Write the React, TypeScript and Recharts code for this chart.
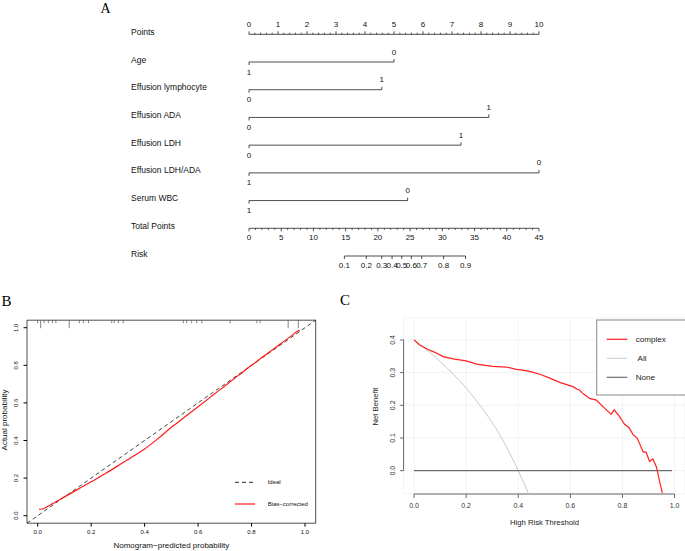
import React from 'react';
import {
  ComposedChart,
  Line,
  Scatter,
  XAxis,
  YAxis,
  ReferenceLine,
  ReferenceArea,
  CartesianGrid,
} from 'recharts';

const SANS = '"Liberation Sans", Arial, Helvetica, sans-serif';
const SERIF = '"Liberation Serif", "Times New Roman", serif';

// ---------- A: nomogram ----------
const rowNames = [
  'Points',
  'Age',
  'Effusion lymphocyte',
  'Effusion ADA',
  'Effusion LDH',
  'Effusion LDH/ADA',
  'Serum WBC',
  'Total Points',
  'Risk',
];
const pointTicks = [0, 1, 2, 3, 4, 5, 6, 7, 8, 9, 10];
const varLevels = [
  ['1', '0'],
  ['0', '1'],
  ['0', '1'],
  ['0', '1'],
  ['1', '0'],
  ['1', '0'],
];
const varPoints = [
  [0, 5.0],
  [0, 4.58],
  [0, 8.27],
  [0, 7.31],
  [0, 10],
  [0, 5.47],
];
const totalTicks = [0, 5, 10, 15, 20, 25, 30, 35, 40, 45];
const riskLabels = ['0.1', '0.2', '0.3', '0.4', '0.5', '0.6', '0.7', '0.8', '0.9'];
const riskAt = [14.8, 18.2, 20.6, 22.2, 23.7, 25.2, 26.8, 30.2, 33.6];

// ---------- B: calibration ----------
const calX = [0.005, 0.02, 0.05, 0.1, 0.15, 0.2, 0.25, 0.3, 0.35, 0.4, 0.45, 0.5, 0.55, 0.6, 0.65, 0.7, 0.75, 0.8, 0.85, 0.9, 0.95, 0.97, 0.98];
const calY = [0.034, 0.037, 0.06, 0.1, 0.14, 0.18, 0.222, 0.265, 0.31, 0.355, 0.41, 0.47, 0.525, 0.58, 0.635, 0.69, 0.745, 0.8, 0.853, 0.905, 0.958, 0.98, 0.986];
const rugShort = [0.0, 0.024, 0.04, 0.055, 0.068, 0.156, 0.171, 0.19, 0.277, 0.286, 0.302, 0.32, 0.545, 0.557, 0.576, 0.595, 0.614, 0.72, 0.82, 0.832];
const rugLong = [0.011, 0.118, 0.937, 0.975];
const probTicks = [0, 0.2, 0.4, 0.6, 0.8, 1.0];

// ---------- C: decision curve ----------
const thr = [0, 0.02, 0.05, 0.08, 0.112, 0.15, 0.2, 0.24, 0.3, 0.355, 0.393, 0.425, 0.45, 0.483, 0.521, 0.559, 0.61, 0.625, 0.636, 0.645, 0.655, 0.674, 0.7, 0.725, 0.757, 0.768, 0.789, 0.808, 0.825, 0.84, 0.857, 0.879, 0.891, 0.904, 0.917, 0.93, 0.943, 0.953];
const netComplex = [0.4, 0.385, 0.372, 0.362, 0.349, 0.342, 0.336, 0.326, 0.319, 0.317, 0.31, 0.307, 0.302, 0.295, 0.283, 0.27, 0.257, 0.25, 0.246, 0.238, 0.232, 0.221, 0.216, 0.196, 0.172, 0.186, 0.165, 0.142, 0.132, 0.111, 0.099, 0.058, 0.056, 0.028, 0.036, 0.012, -0.034, -0.069];
const allThr = [0, 0.05, 0.1, 0.15, 0.2, 0.25, 0.3, 0.35, 0.4, 0.44];
const netAll = [0.4, 0.369, 0.334, 0.296, 0.253, 0.203, 0.147, 0.08, 0, -0.071];
const noneThr = [0, 0.99];
const netNone = [0, 0];
const thrTicks = [0, 0.2, 0.4, 0.6, 0.8, 1.0];
const netTicks = [0, 0.1, 0.2, 0.3, 0.4];

const zip = (xs: number[], ys: number[]) => xs.map((x, i) => ({ x, y: ys[i] }));

// nomogram marks
const pointMarks: any[] = [];
for (let i = 0; i <= 50; i++) {
  const major = i % 5 === 0;
  pointMarks.push({ x: i / 5, y: 0, len: major ? -3 : -1.6, label: major ? String(pointTicks[i / 5]) : '', ly: -9.5 });
}
const varMarks: any[] = [];
varPoints.forEach((pts, r) => {
  pts.forEach((p, i) => {
    varMarks.push({ x: p, y: r + 1, len: i === 0 ? 3 : -3, label: varLevels[r][i], ly: i === 0 ? 10 : -10 });
  });
});
const totalMarks: any[] = [];
for (let v = 0; v <= 45; v++) {
  const major = v % 5 === 0;
  totalMarks.push({ x: v, y: 7, len: major ? 3 : 1.6, label: major ? String(totalTicks[v / 5]) : '', ly: 9.5 });
}
const riskMarks = riskAt.map((tp, i) => ({ x: tp, y: 8, len: 3, label: riskLabels[i], ly: 9.5 }));
const rowMarks = rowNames.map((name, i) => ({ x: 0, y: i, name }));

const TickMark = (p: any) => {
  const { cx, cy, payload } = p;
  return (
    <g>
      <line x1={cx} y1={cy} x2={cx} y2={cy + payload.len} stroke="#222" strokeWidth={0.8} />
      {payload.label ? (
        <text x={cx} y={cy + payload.ly} textAnchor="middle" dominantBaseline="central" fontSize={8} fontFamily={SANS} fill="#111">
          {payload.label}
        </text>
      ) : null}
    </g>
  );
};

const RowLabel = (p: any) => (
  <text x={p.cx - 118} y={p.cy - 2.5} dominantBaseline="central" fontSize={8.5} fontFamily={SANS} fill="#111">
    {p.payload.name}
  </text>
);

const Nomogram = () => (
  <ComposedChart width={685} height={280} margin={{ top: 34.3, right: 146, bottom: 24, left: 249 }}>
    <XAxis xAxisId="pts" type="number" dataKey="x" domain={[0, 10]} hide />
    <XAxis xAxisId="tp" type="number" dataKey="x" domain={[0, 45]} hide />
    <YAxis type="number" dataKey="y" domain={[0, 8]} reversed hide />
    <ReferenceLine xAxisId="pts" segment={[{ x: 0, y: 0 }, { x: 10, y: 0 }]} stroke="#222" strokeWidth={0.8} />
    {varPoints.map((pts, r) => (
      <ReferenceLine key={r} xAxisId="pts" segment={[{ x: pts[0], y: r + 1 }, { x: pts[1], y: r + 1 }]} stroke="#222" strokeWidth={0.8} />
    ))}
    <ReferenceLine xAxisId="tp" segment={[{ x: 0, y: 7 }, { x: 45, y: 7 }]} stroke="#222" strokeWidth={0.8} />
    <ReferenceLine xAxisId="tp" segment={[{ x: riskAt[0], y: 8 }, { x: riskAt[riskAt.length - 1], y: 8 }]} stroke="#222" strokeWidth={0.8} />
    <Scatter xAxisId="pts" data={rowMarks} dataKey="y" shape={RowLabel} isAnimationActive={false} />
    <Scatter xAxisId="pts" data={pointMarks} dataKey="y" shape={TickMark} isAnimationActive={false} />
    <Scatter xAxisId="pts" data={varMarks} dataKey="y" shape={TickMark} isAnimationActive={false} />
    <Scatter xAxisId="tp" data={totalMarks} dataKey="y" shape={TickMark} isAnimationActive={false} />
    <Scatter xAxisId="tp" data={riskMarks} dataKey="y" shape={TickMark} isAnimationActive={false} />
  </ComposedChart>
);

const RugMark = (p: any) => (
  <line x1={p.cx} y1={p.cy} x2={p.cx} y2={p.cy + p.payload.len} stroke="#333" strokeWidth={0.6} />
);

const Calibration = () => {
  const rug = [
    ...rugShort.map((x) => ({ x, y: 1.04, len: 3 })),
    ...rugLong.map((x) => ({ x, y: 1.04, len: 8 })),
  ];
  return (
    <ComposedChart width={330} height={251} margin={{ top: 20.2, right: 14.3, bottom: 0, left: 0 }}>
      <XAxis
        type="number"
        dataKey="x"
        domain={[-0.04, 1.04]}
        ticks={probTicks}
        interval={0}
        allowDataOverflow
        axisLine={false}
        tickSize={3.5}
        stroke="#000"
        height={27.8}
        tick={(t: any) => (
          <text x={t.x} y={t.y + 3.5} textAnchor="middle" dominantBaseline="central" fontSize={6} fontFamily={SANS} fill="#111">
            {Number(t.payload.value).toFixed(1)}
          </text>
        )}
      />
      <YAxis
        type="number"
        dataKey="y"
        domain={[-0.04, 1.04]}
        ticks={probTicks}
        interval={0}
        allowDataOverflow
        axisLine={false}
        tickSize={3.5}
        stroke="#000"
        width={27}
        tick={(t: any) => (
          <text
            x={t.x - 5}
            y={t.y}
            transform={`rotate(-90 ${t.x - 5} ${t.y})`}
            textAnchor="middle"
            dominantBaseline="central"
            fontSize={6}
            fontFamily={SANS}
            fill="#111"
          >
            {Number(t.payload.value).toFixed(1)}
          </text>
        )}
      />
      <ReferenceArea x1={-0.04} x2={1.04} y1={-0.04} y2={1.04} fill="none" stroke="#222" strokeWidth={0.8} ifOverflow="visible" />
      <ReferenceLine segment={[{ x: -0.04, y: -0.04 }, { x: 1.04, y: 1.04 }]} stroke="#111" strokeWidth={0.8} strokeDasharray="4 3" />
      <Line data={zip(calX, calY)} dataKey="y" type="monotone" stroke="#ff1a1a" strokeWidth={1.2} dot={false} isAnimationActive={false} />
      <Scatter data={rug} dataKey="y" shape={RugMark} isAnimationActive={false} />
    </ComposedChart>
  );
};

const DecisionCurve = () => (
  <ComposedChart width={345} height={251} margin={{ top: 18, right: 0, bottom: 0, left: 0 }}>
    <CartesianGrid stroke="#efefef" strokeWidth={0.8} />
    <XAxis
      type="number"
      dataKey="x"
      domain={[-0.04, 1.04]}
      ticks={thrTicks}
      interval={0}
      allowDataOverflow
      axisLine={false}
      tickSize={4}
      stroke="#666"
      height={57}
      tick={(t: any) => (
        <text x={t.x} y={t.y + 5} textAnchor="middle" dominantBaseline="central" fontSize={7} fontFamily={SANS} fill="#333">
          {Number(t.payload.value).toFixed(1)}
        </text>
      )}
    />
    <YAxis
      type="number"
      dataKey="y"
      domain={[-0.0714, 0.467]}
      ticks={netTicks}
      interval={0}
      allowDataOverflow
      axisLine={false}
      tickSize={3.5}
      stroke="#666"
      width={63.6}
      tick={(t: any) => (
        <text
          x={t.x - 6}
          y={t.y}
          transform={`rotate(-90 ${t.x - 6} ${t.y})`}
          textAnchor="middle"
          dominantBaseline="central"
          fontSize={7}
          fontFamily={SANS}
          fill="#333"
        >
          {Number(t.payload.value).toFixed(1)}
        </text>
      )}
    />
    <ReferenceLine segment={[{ x: -0.04, y: 0 }, { x: -0.04, y: 0.4 }]} stroke="#666" strokeWidth={1} ifOverflow="visible" />
    <ReferenceLine segment={[{ x: 0, y: -0.0714 }, { x: 1, y: -0.0714 }]} stroke="#666" strokeWidth={1} ifOverflow="visible" />
    <Line data={zip(allThr, netAll)} dataKey="y" type="monotone" stroke="#c9c9c9" strokeWidth={1} dot={false} isAnimationActive={false} />
    <Line data={zip(noneThr, netNone)} dataKey="y" type="linear" stroke="#6e6e6e" strokeWidth={1.2} dot={false} isAnimationActive={false} />
    <Line data={zip(thr, netComplex)} dataKey="y" type="linear" stroke="#ff2020" strokeWidth={1.2} dot={false} isAnimationActive={false} />
  </ComposedChart>
);

export default function App() {
  return (
    <div style={{ position: 'absolute', left: 0, top: 0, width: 685, height: 551, overflow: 'hidden', background: '#fff', fontFamily: SANS }}>
      <div style={{ position: 'absolute', left: 0, top: 0 }}>
        <Nomogram />
      </div>
      <div style={{ position: 'absolute', left: 0, top: 300 }}>
        <Calibration />
      </div>
      <div style={{ position: 'absolute', left: 340, top: 300 }}>
        <DecisionCurve />
      </div>
      <svg style={{ position: 'absolute', left: 0, top: 0, pointerEvents: 'none' }} width={685} height={551}>
        <text x={100.5} y={12.5} fontSize={14} fontFamily={SERIF} fill="#000">A</text>
        <text x={1.5} y={305.7} fontSize={15} fontFamily={SERIF} fill="#000">B</text>
        <text x={340} y={305} fontSize={15} fontFamily={SERIF} fill="#000">C</text>

        <text x={171.4} y={545.7} textAnchor="middle" dominantBaseline="central" fontSize={8} fontFamily={SANS} fill="#111">
          Nomogram−predicted probability
        </text>
        <text x={4.7} y={420} transform="rotate(-90 4.7 420)" textAnchor="middle" dominantBaseline="central" fontSize={8} fontFamily={SANS} fill="#111">
          Actual probability
        </text>
        <line x1={235} y1={482.3} x2={255} y2={482.3} stroke="#111" strokeWidth={0.9} strokeDasharray="4 3" />
        <text x={267.7} y={482.3} dominantBaseline="central" fontSize={6} fontFamily={SANS} fill="#111">Ideal</text>
        <line x1={235} y1={504} x2={255} y2={504} stroke="#ff1a1a" strokeWidth={1.2} />
        <text x={267.7} y={504} dominantBaseline="central" fontSize={6} fontFamily={SANS} fill="#111">Bias−corrected</text>

        <text x={544.5} y={522.7} textAnchor="middle" dominantBaseline="central" fontSize={7.7} fontFamily={SANS} fill="#222">
          High Risk Threshold
        </text>
        <text x={375} y={406.5} transform="rotate(-90 375 406.5)" textAnchor="middle" dominantBaseline="central" fontSize={7.7} fontFamily={SANS} fill="#222">
          Net Benefit
        </text>
        <rect x={596.7} y={320} width={95} height={75} fill="#fff" stroke="#888" strokeWidth={1} />
        <line x1={606.7} y1={339.3} x2={627.3} y2={339.3} stroke="#ff2020" strokeWidth={1.2} />
        <text x={635.7} y={339.3} dominantBaseline="central" fontSize={8.1} fontFamily={SANS} fill="#222">complex</text>
        <line x1={606.7} y1={358.3} x2={627.3} y2={358.3} stroke="#c9c9c9" strokeWidth={1} />
        <text x={637.5} y={358.3} dominantBaseline="central" fontSize={8.1} fontFamily={SANS} fill="#222">All</text>
        <line x1={606.7} y1={377.3} x2={627.3} y2={377.3} stroke="#6e6e6e" strokeWidth={1.2} />
        <text x={635.7} y={377.3} dominantBaseline="central" fontSize={8.1} fontFamily={SANS} fill="#222">None</text>
      </svg>
    </div>
  );
}
